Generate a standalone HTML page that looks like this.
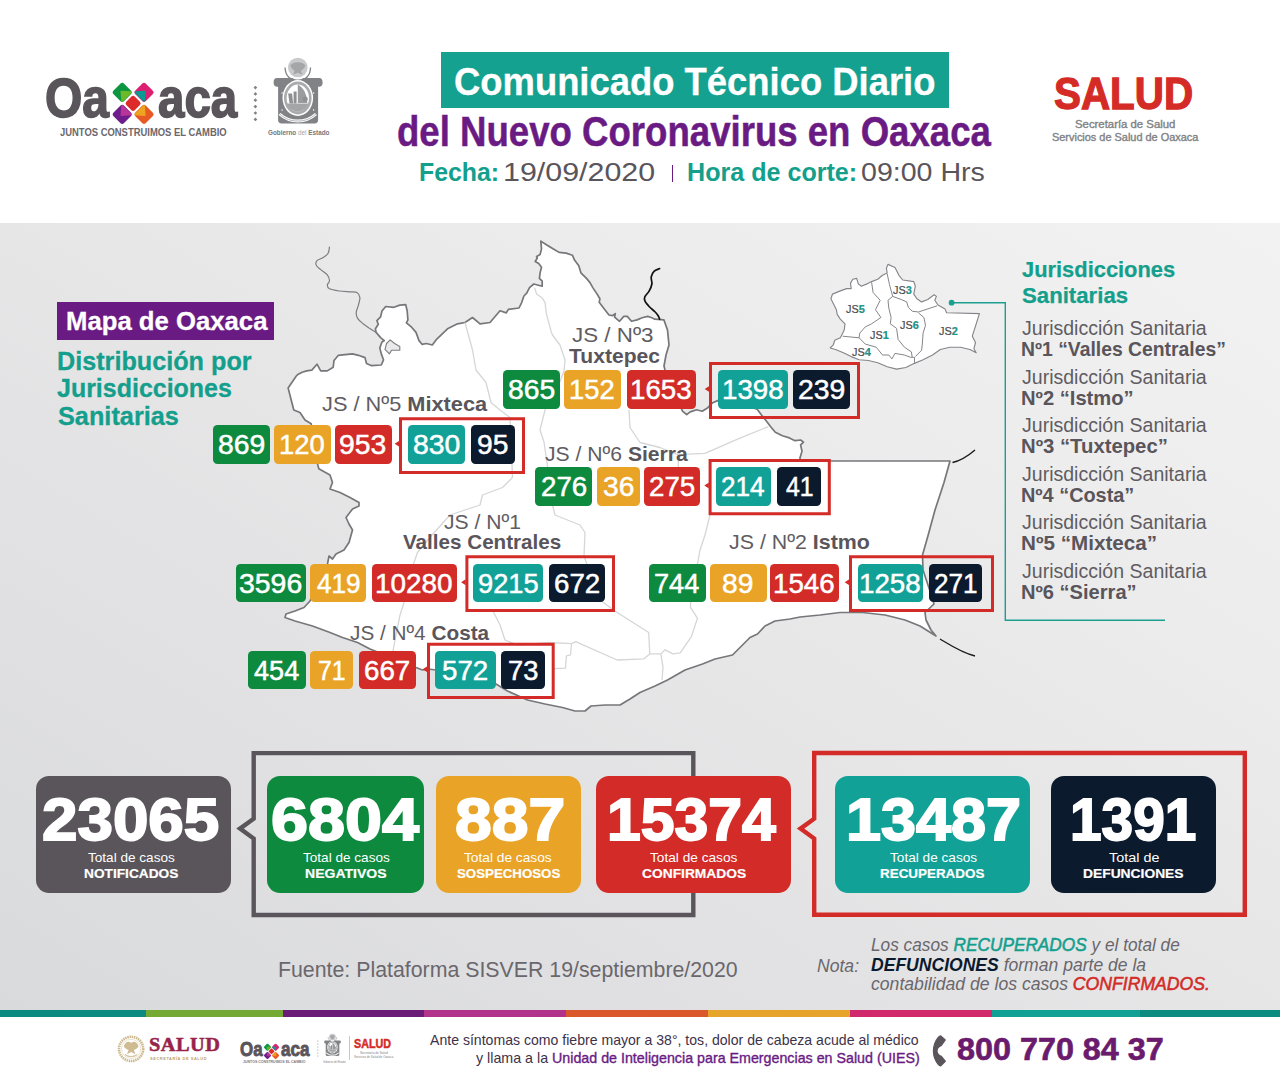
<!DOCTYPE html>
<html lang="es"><head><meta charset="utf-8"><title>Comunicado Técnico Diario - Oaxaca</title>
<style>
html,body{margin:0;padding:0;}
body{width:1280px;height:1082px;position:relative;overflow:hidden;background:#fff;font-family:"Liberation Sans",sans-serif;}
.b{position:absolute;}
.t{position:absolute;white-space:nowrap;line-height:1;transform-origin:0 0;}
svg{position:absolute;left:0;top:0;overflow:visible;}
</style></head><body>
<div class="b" style="left:0;top:222.5px;width:1280px;height:788px;background:linear-gradient(to bottom left,#f2f2f2 0%,#ededee 25%,#e6e6e7 50%,#e0e0e2 75%,#d9dadc 100%);"></div>
<div class="b" style="left:0.0px;top:1010px;width:146.0px;height:7px;background:#0b8b80"></div>
<div class="b" style="left:146.0px;top:1010px;width:136.5px;height:7px;background:#74aa34"></div>
<div class="b" style="left:282.5px;top:1010px;width:141.5px;height:7px;background:#6a1c78"></div>
<div class="b" style="left:424.0px;top:1010px;width:142.0px;height:7px;background:#b2338a"></div>
<div class="b" style="left:566.0px;top:1010px;width:142.0px;height:7px;background:#da582b"></div>
<div class="b" style="left:708.0px;top:1010px;width:142.0px;height:7px;background:#e7a42b"></div>
<div class="b" style="left:850.0px;top:1010px;width:142.0px;height:7px;background:#d02a6c"></div>
<div class="b" style="left:992.0px;top:1010px;width:148.0px;height:7px;background:#10a094"></div>
<div class="b" style="left:1140.0px;top:1010px;width:140.0px;height:7px;background:#0c8b81"></div>
<svg width="1280" height="1082"><rect x="114.75" y="84.85" width="14.90" height="14.90" rx="2.70" transform="rotate(45 122.20 92.30)" fill="#0c9642"/><path d="M121.50 91.60L130.64 92.30L122.20 100.74Z" fill="#6db927" stroke="#6db927" stroke-width="1.90" stroke-linejoin="round"/><rect x="136.55" y="84.85" width="14.90" height="14.90" rx="2.70" transform="rotate(45 144.00 92.30)" fill="#dc1f70"/><path d="M144.70 91.60L135.56 92.30L144.00 100.74Z" fill="#0b9a93" stroke="#0b9a93" stroke-width="1.90" stroke-linejoin="round"/><rect x="114.75" y="106.95" width="14.90" height="14.90" rx="2.70" transform="rotate(45 122.20 114.40)" fill="#6e1d8a"/><path d="M121.50 115.10L130.64 114.40L122.20 105.96Z" fill="#b8359a" stroke="#b8359a" stroke-width="1.90" stroke-linejoin="round"/><rect x="136.55" y="106.95" width="14.90" height="14.90" rx="2.70" transform="rotate(45 144.00 114.40)" fill="#e85a24"/><path d="M144.70 115.10L135.56 114.40L144.00 105.96Z" fill="#eda421" stroke="#eda421" stroke-width="1.90" stroke-linejoin="round"/><rect x="127.15" y="97.40" width="11.90" height="11.90" rx="2.30" transform="rotate(45 133.10 103.35)" fill="#dd2a2a"/></svg>
<svg width="1280" height="1082"><rect x="254.1" y="86.3" width="2.6" height="2.6" fill="#808285" transform="rotate(45 255.4 87.6)"/><rect x="254.1" y="92.6" width="2.6" height="2.6" fill="#808285" transform="rotate(45 255.4 93.9)"/><rect x="254.1" y="98.9" width="2.6" height="2.6" fill="#808285" transform="rotate(45 255.4 100.2)"/><rect x="254.1" y="105.3" width="2.6" height="2.6" fill="#808285" transform="rotate(45 255.4 106.6)"/><rect x="254.1" y="111.7" width="2.6" height="2.6" fill="#808285" transform="rotate(45 255.4 113.0)"/><rect x="254.1" y="118.1" width="2.6" height="2.6" fill="#808285" transform="rotate(45 255.4 119.4)"/></svg>
<svg width="1280" height="1082"><g transform="translate(273.60 57.50) scale(1.0000)"><circle cx="24.2" cy="10" r="9.8" fill="#c9cacc"/><path d="M16.500 8c2.500-4.500 12.900-4.500 15.400 0-1.500 3-3 4.500-4.500 5.200l1.500 4-4.700-2-4.700 2 1.500-4c-1.500-.7-3-2.200-4.500-5.200z" fill="#a4a6a8"/><path d="M11.5 10c0 8 5 13 12.7 13.5 7.700-.5 12.700-5.500 12.700-13.500" fill="none" stroke="#808285" stroke-width="1.3"/><path d="M3 20.500h16c2 2 8.500 2 10.500 0h16c2.600 0 3.500 2 3.500 4.500s-1 4-3 4.200l-1.500 .1v33.200c0 2-1.200 3.500-3.500 3.500h-33c-2.300 0-3.500-1.500-3.500-3.500v-33.200l-1.500-.1c-2-.2-3-1.700-3-4.200s.9-4.500 3.500-4.500z" fill="#808285"/><ellipse cx="24.2" cy="40.5" rx="15.300" ry="17.900" fill="#fff"/><ellipse cx="24.2" cy="40.5" rx="13.800" ry="16.400" fill="#a9abad"/><ellipse cx="24.2" cy="40.5" rx="11.200" ry="13.600" fill="#fff"/><path d="M24.2 27v18.500h9.500c-.5-8-3-15-9.500-18.500z" fill="#9a9c9e"/><path d="M14.500 36h4l1 10h-3.500zM20 34h3v12h-3z" fill="#8e9092"/><circle cx="31.500" cy="41.5" r="2.600" fill="#8e9092"/><path d="M13.500 46h21.400c-1 3.500-4 7-10.700 8.200-6.700-1.200-9.700-4.700-10.700-8.200z" fill="#a3a5a7"/><circle cx="14.2" cy="28.0" r=".7" fill="#fff"/><circle cx="34.2" cy="28.0" r=".7" fill="#fff"/><circle cx="8.5" cy="35.5" r=".7" fill="#fff"/><circle cx="40.0" cy="35.5" r=".7" fill="#fff"/><circle cx="8.5" cy="52.5" r=".7" fill="#fff"/><circle cx="40.0" cy="52.5" r=".7" fill="#fff"/><path d="M6 56.500c6 5.500 12 7 18.200 7s12.200-1.500 18.200-7" fill="none" stroke="#fff" stroke-width="3"/><path d="M6 56.500c6 5.500 12 7 18.200 7s12.200-1.500 18.200-7" fill="none" stroke="#b5b6b8" stroke-width="1"/></g></svg>
<div class="b" style="left:441.0px;top:51.5px;width:507.5px;height:56.5px;background:#14a18f;border-radius:0px;"></div>
<div class="b" style="left:671.9px;top:165.0px;width:1.3px;height:16.5px;background:#6a1b83;border-radius:0px;"></div>
<svg width="1280" height="1082"><path d="M540.8 241.1L546.4 244.7L553.4 248.9L559.1 252.4L566.1 253.1L572.4 255.2L574.5 260.1L578.8 265.8L580.9 272.8L586.5 278.4L590.0 282.6L592.8 287.6L597.0 293.9L599.9 298.8L599.2 302.3L604.1 308.7L609.0 315.0L612.5 315.7L615.3 313.6L614.6 317.1L619.5 321.3L623.8 316.4L627.3 316.4L631.5 321.3L637.1 319.9L642.1 317.8L647.7 316.4L651.9 317.8L654.7 319.2L663.9 319.9L667.5 330.0L669.0 345.0L666.0 355.0L664.0 366.0L665.0 370.0L672.0 388.0L682.5 411.2L686.7 414.7L690.2 411.9L696.6 409.8L702.2 411.2L707.8 407.7L712.7 402.7L717.7 400.6L738.0 402.0L757.0 409.1L761.3 414.7L766.9 421.7L771.1 427.3L775.3 432.3L782.4 435.8L789.4 437.9L795.0 440.7L800.6 440.0L803.5 442.1L800.6 444.9L802.0 451.3L799.9 458.3L801.0 461.0L950.0 461.0L944.0 482.5L935.0 510.0L927.5 537.5L922.5 555.0L923.0 570.0L929.0 588.0L934.0 604.0L925.0 612.5L926.0 620.0L931.0 630.0L936.0 636.0L920.0 626.0L905.0 620.0L885.0 615.0L862.5 612.5L840.0 612.5L820.0 615.0L800.0 617.0L790.0 619.0L775.0 621.0L765.0 626.0L757.5 634.0L750.0 637.5L742.5 645.0L732.5 655.0L715.0 659.0L702.5 664.0L685.0 670.0L667.5 680.0L655.0 686.0L640.0 692.5L630.0 699.0L620.0 705.0L605.0 705.0L591.0 706.0L585.0 711.0L575.0 711.0L562.5 707.5L545.0 704.0L527.5 700.0L507.5 691.0L496.0 684.0L470.0 676.0L445.0 671.0L427.5 669.0L422.5 670.0L416.0 667.5L395.0 659.0L370.0 649.0L357.5 642.5L342.5 637.5L330.0 632.5L312.5 626.0L295.0 621.0L285.0 617.5L286.0 614.0L295.0 611.0L304.0 607.5L310.0 601.0L318.0 585.0L327.5 564.0L329.0 556.0L332.5 559.0L336.0 554.0L344.0 550.0L349.0 542.5L352.5 530.0L349.0 524.0L346.0 517.5L352.5 509.0L359.0 506.0L359.0 502.5L350.0 497.5L340.0 492.5L330.0 489.0L332.5 482.5L330.0 475.0L318.8 468.8L314.0 450.0L311.2 423.8L305.0 420.0L300.0 412.5L293.8 410.0L291.2 400.0L288.1 387.9L296.3 376.0L297.7 374.6L302.2 372.3L306.6 370.9L311.8 370.1L317.0 364.2L320.7 370.9L327.3 370.9L333.2 367.2L334.0 360.5L338.4 355.3L345.1 354.6L352.5 353.9L358.4 355.3L365.0 357.6L366.5 363.5L371.7 365.7L381.3 365.0L383.5 359.8L381.3 353.9L379.8 347.9L382.0 342.0L384.3 340.6L380.6 337.6L376.1 332.4L375.4 328.7L378.3 324.3L376.9 320.6L380.6 316.9L382.0 311.0L385.7 306.5L393.9 307.3L399.8 305.1L405.7 304.6L407.2 311.0L407.9 319.9L406.4 322.8L411.6 327.2L416.0 332.4L419.0 340.6L422.0 344.3L426.4 343.5L432.3 345.0L436.8 339.1L447.5 328.8L457.5 323.8L465.0 322.5L472.5 317.5L480.0 323.8L490.0 322.5L500.0 310.8L506.3 312.9L508.4 309.4L519.0 308.0L521.8 302.3L523.9 296.0L526.7 293.2L529.5 287.6L533.8 284.0L542.2 286.2L542.2 281.2L539.4 278.4L540.1 272.8L541.5 267.2L538.7 263.6L535.2 261.5L537.3 258.0L536.6 256.6L540.1 254.5L541.5 248.9Z" fill="#fff" stroke="#76777a" stroke-width="1.7" stroke-linejoin="round"/><path d="M534.5 287.6L536.6 293.9L542.2 298.1L545.0 302.3L546.4 313.6L551.3 332.0L552.5 335.0L560.0 345.0L565.0 360.0L564.0 371.0L556.0 392.0L545.0 410.0L540.0 430.0L544.0 442.0L548.0 470.0L552.5 505.0L555.0 515.0L580.0 525.0L585.0 532.5L584.0 556.0" fill="none" stroke="#d5d6d7" stroke-width="1.3" stroke-linejoin="round"/><path d="M629.0 410.0L630.0 427.5L640.0 442.5L660.0 447.5L678.3 454.8" fill="none" stroke="#d5d6d7" stroke-width="1.3" stroke-linejoin="round"/><path d="M678.3 470.0L678.3 454.8L688.1 454.1L705.0 453.4L738.8 438.6L768.3 426.6" fill="none" stroke="#d5d6d7" stroke-width="1.3" stroke-linejoin="round"/><path d="M465.0 322.5L472.5 350.0L476.0 370.0L486.0 382.5L491.0 402.5L500.0 410.0L510.0 417.5L511.0 440.0L512.5 477.5L502.5 487.5L482.5 495.0L480.0 505.0L465.0 510.0L450.0 515.0L432.0 535.0L417.5 552.5L414.0 562.5L408.0 590.0L400.0 615.0L395.0 640.0L392.0 657.0" fill="none" stroke="#d5d6d7" stroke-width="1.3" stroke-linejoin="round"/><path d="M492.5 610.0L500.0 625.0L505.0 640.0L517.5 645.0L550.0 642.5L571.5 643.7" fill="none" stroke="#d5d6d7" stroke-width="1.3" stroke-linejoin="round"/><path d="M710.0 515.0L705.0 535.0L700.0 550.0L697.5 564.0L692.0 585.0L690.4 607.1L697.5 618.3L691.4 636.6L680.2 652.8L673.1 653.9L665.0 649.8L660.9 653.9L663.0 667.1L662.0 680.3" fill="none" stroke="#d5d6d7" stroke-width="1.3" stroke-linejoin="round"/><path d="M584.0 556.0L600.0 600.0L615.2 611.2L629.4 620.3L648.7 632.5L649.8 653.9L660.9 653.9" fill="none" stroke="#d5d6d7" stroke-width="1.3" stroke-linejoin="round"/><path d="M649.8 653.9L643.7 658.9L617.2 660.0L575.6 641.7L571.5 643.7L570.5 654.9L566.4 655.9L565.4 668.1L554.2 668.7" fill="none" stroke="#d5d6d7" stroke-width="1.3" stroke-linejoin="round"/><path d="M329.5 246.7C329.3 247.8 329.2 251.5 328.1 253.3C327.0 255.1 324.8 256.5 322.9 257.7C321.0 258.9 318.1 259.5 317.0 260.7C315.9 261.9 315.6 263.6 316.2 265.1C316.8 266.6 318.8 268.0 320.7 269.6C322.6 271.2 325.8 273.0 327.3 274.8C328.8 276.6 329.5 279.0 329.5 280.7C329.5 282.4 327.3 283.8 327.3 285.1C327.3 286.5 327.5 287.8 329.5 288.8C331.5 289.8 335.8 290.5 339.1 291.0C342.4 291.5 346.5 291.6 349.5 291.8C352.5 292.1 355.2 291.5 356.9 292.5C358.6 293.5 359.6 295.6 359.9 297.7C360.1 299.8 359.0 302.6 358.4 305.1C357.8 307.6 356.3 310.3 356.2 312.5C356.1 314.7 356.5 316.6 357.6 318.4C358.7 320.2 360.7 321.8 362.8 323.5C364.9 325.2 368.0 327.2 370.2 328.7C372.4 330.2 375.1 331.8 376.1 332.4" fill="none" stroke="#7c7d80" stroke-width="1.2" stroke-linejoin="round"/><path d="M386.5 343.5L390.2 339.8L394.6 343.5L399.8 346.5L399.8 350.2L391.6 350.2L389.4 353.9L385.0 349.4Z" fill="#e9e9ea" stroke="#7c7d80" stroke-width="1.1" stroke-linejoin="round"/><path d="M659.6 268.6C658.7 269.1 655.4 270.0 654.0 271.4C652.6 272.8 651.6 274.9 651.2 277.0C650.9 279.1 652.2 281.6 651.9 284.0C651.5 286.4 650.3 289.0 649.1 291.1C647.9 293.2 645.6 295.1 644.9 296.7C644.2 298.3 644.2 299.3 644.9 300.9C645.6 302.5 647.5 304.7 649.1 306.5C650.7 308.3 653.2 310.0 654.7 311.5C656.2 313.0 657.4 314.4 658.2 315.7C659.0 317.0 659.4 318.6 659.6 319.2" fill="none" stroke="#111" stroke-width="1.7" stroke-linecap="round"/><path d="M952.500 462.500C962 460.500 968 456 975 450" fill="none" stroke="#1a1a1a" stroke-width="1.4"/><path d="M940 639C950 645 962 653 975 656" fill="none" stroke="#1a1a1a" stroke-width="1.4"/></svg>
<svg width="1280" height="1082"><path d="M888.0 264.4L895.0 267.5L898.9 275.3L902.8 280.0L913.8 281.6L915.3 286.2L913.8 294.1L916.9 298.8L921.6 301.9L927.8 299.5L934.1 294.8L936.4 296.4L934.8 300.3L938.0 305.0L945.0 308.9L946.6 312.8L979.4 313.6L976.2 323.8L972.3 336.2L975.5 342.5L973.9 348.8L976.2 352.7L970.0 349.5L960.6 347.2L949.7 347.2L940.3 349.5L932.5 355.0L923.1 359.7L913.8 363.6L905.9 367.5L896.6 369.1L887.2 366.7L877.8 362.8L868.4 360.5L859.1 359.7L851.2 356.6L843.4 352.7L835.6 349.5L830.2 348.0L833.3 344.8L834.8 340.2L840.3 337.8L841.9 334.7L844.2 330.0L845.0 323.8L840.3 319.1L837.2 314.4L836.4 309.7L833.3 303.4L830.9 298.8L832.5 294.1L840.3 290.9L846.6 288.6L851.2 288.6L850.5 283.1L852.8 279.2L856.7 278.4L858.3 283.9L861.4 286.2L866.9 283.9L871.6 281.6L877.8 279.2L882.5 275.3L887.2 273.0L886.4 268.3Z" fill="#fff" stroke="#85868a" stroke-width="1.15" stroke-linejoin="round"/><path d="M871.6 282.3L873.1 292.5L880.2 300.3L875.5 309.7L880.9 317.5L871.6 323.8L865.3 326.9L859.8 333.1L859.1 337.8L842.7 336.2" fill="none" stroke="#85868a" stroke-width="1.0" stroke-linejoin="round"/><path d="M859.1 337.8L865.3 344.1L876.2 347.2L882.5 355.0L888.8 355.0L891.9 358.9L895.0 353.4L904.4 355.0L910.6 357.3L914.5 357.3L914.5 362.8" fill="none" stroke="#85868a" stroke-width="1.0" stroke-linejoin="round"/><path d="M887.2 273.8L889.5 284.7L892.7 296.4L888.0 300.3L888.8 308.1L891.1 317.5L890.3 323.8L896.6 328.4L898.1 339.4L904.4 347.2L911.4 351.9L912.2 357.3" fill="none" stroke="#85868a" stroke-width="1.0" stroke-linejoin="round"/><path d="M892.7 296.4L901.2 299.5L906.7 301.9L908.3 307.3L912.2 311.2L918.4 312.0L937.2 305.8" fill="none" stroke="#85868a" stroke-width="1.0" stroke-linejoin="round"/><path d="M918.4 312.8L923.9 317.5L925.5 325.3L923.1 333.1L922.3 344.1L921.6 350.3L915.3 356.6" fill="none" stroke="#85868a" stroke-width="1.0" stroke-linejoin="round"/></svg>
<div class="b" style="left:56.7px;top:302.2px;width:217.3px;height:38.2px;background:#6a1b83;border-radius:0px;"></div>
<svg width="1280" height="1082"><path d="M710.50 363.40H858.50V417.50H710.50Z" fill="none" stroke="#d32b27" stroke-width="3.0" stroke-linejoin="miter"/><path d="M709.30 386.00L704.70 389.00L709.30 392.00Z" fill="#d32b27"/></svg>
<div class="b" style="left:503.4px;top:370.4px;width:56.4px;height:38.8px;background:#0e8a3f;border-radius:4.5px;"></div>
<div class="b" style="left:564.2px;top:370.4px;width:56.4px;height:38.8px;background:#e9a327;border-radius:4.5px;"></div>
<div class="b" style="left:626.6px;top:370.4px;width:69.2px;height:38.8px;background:#d32b27;border-radius:4.5px;"></div>
<div class="b" style="left:717.9px;top:370.4px;width:69.8px;height:38.8px;background:#12a197;border-radius:4.5px;"></div>
<div class="b" style="left:793.0px;top:370.4px;width:56.8px;height:38.8px;background:#0c1a2e;border-radius:4.5px;"></div>
<svg width="1280" height="1082"><path d="M400.50 418.80H523.50V472.50H400.50Z" fill="none" stroke="#d32b27" stroke-width="3.0" stroke-linejoin="miter"/><path d="M399.30 440.80L394.70 443.80L399.30 446.80Z" fill="#d32b27"/></svg>
<div class="b" style="left:212.5px;top:425.2px;width:57.3px;height:38.8px;background:#0e8a3f;border-radius:4.5px;"></div>
<div class="b" style="left:274.2px;top:425.2px;width:56.4px;height:38.8px;background:#e9a327;border-radius:4.5px;"></div>
<div class="b" style="left:334.5px;top:425.2px;width:57.0px;height:38.8px;background:#d32b27;border-radius:4.5px;"></div>
<div class="b" style="left:407.5px;top:425.2px;width:57.5px;height:38.8px;background:#12a197;border-radius:4.5px;"></div>
<div class="b" style="left:471.0px;top:425.2px;width:44.2px;height:38.8px;background:#0c1a2e;border-radius:4.5px;"></div>
<svg width="1280" height="1082"><path d="M710.10 460.50H829.30V513.80H710.10Z" fill="none" stroke="#d32b27" stroke-width="3.0" stroke-linejoin="miter"/><path d="M708.90 482.60L704.30 485.60L708.90 488.60Z" fill="#d32b27"/></svg>
<div class="b" style="left:535.4px;top:467.0px;width:56.7px;height:38.8px;background:#0e8a3f;border-radius:4.5px;"></div>
<div class="b" style="left:596.6px;top:467.0px;width:43.6px;height:38.8px;background:#e9a327;border-radius:4.5px;"></div>
<div class="b" style="left:644.1px;top:467.0px;width:56.4px;height:38.8px;background:#d32b27;border-radius:4.5px;"></div>
<div class="b" style="left:715.9px;top:467.0px;width:54.9px;height:38.8px;background:#12a197;border-radius:4.5px;"></div>
<div class="b" style="left:777.0px;top:467.0px;width:44.1px;height:38.8px;background:#0c1a2e;border-radius:4.5px;"></div>
<svg width="1280" height="1082"><path d="M466.90 556.80H613.50V610.50H466.90Z" fill="none" stroke="#d32b27" stroke-width="3.0" stroke-linejoin="miter"/><path d="M465.70 579.30L461.10 582.30L465.70 585.30Z" fill="#d32b27"/></svg>
<div class="b" style="left:235.9px;top:563.7px;width:69.7px;height:38.8px;background:#0e8a3f;border-radius:4.5px;"></div>
<div class="b" style="left:310.0px;top:563.7px;width:56.3px;height:38.8px;background:#e9a327;border-radius:4.5px;"></div>
<div class="b" style="left:371.9px;top:563.7px;width:85.0px;height:38.8px;background:#d32b27;border-radius:4.5px;"></div>
<div class="b" style="left:472.9px;top:563.7px;width:70.0px;height:38.8px;background:#12a197;border-radius:4.5px;"></div>
<div class="b" style="left:548.6px;top:563.7px;width:56.7px;height:38.8px;background:#0c1a2e;border-radius:4.5px;"></div>
<svg width="1280" height="1082"><path d="M850.50 556.80H992.50V610.50H850.50Z" fill="none" stroke="#d32b27" stroke-width="3.0" stroke-linejoin="miter"/><path d="M849.30 579.30L844.70 582.30L849.30 585.30Z" fill="#d32b27"/></svg>
<div class="b" style="left:648.8px;top:563.7px;width:56.8px;height:38.8px;background:#0e8a3f;border-radius:4.5px;"></div>
<div class="b" style="left:709.7px;top:563.7px;width:56.9px;height:38.8px;background:#e9a327;border-radius:4.5px;"></div>
<div class="b" style="left:769.7px;top:563.7px;width:69.3px;height:38.8px;background:#d32b27;border-radius:4.5px;"></div>
<div class="b" style="left:857.8px;top:563.7px;width:65.1px;height:38.8px;background:#12a197;border-radius:4.5px;"></div>
<div class="b" style="left:928.6px;top:563.7px;width:53.6px;height:38.8px;background:#0c1a2e;border-radius:4.5px;"></div>
<svg width="1280" height="1082"><path d="M428.50 644.20H553.20V697.50H428.50Z" fill="none" stroke="#d32b27" stroke-width="3.0" stroke-linejoin="miter"/><path d="M427.30 666.30L422.70 669.30L427.30 672.30Z" fill="#d32b27"/></svg>
<div class="b" style="left:248.1px;top:650.7px;width:57.5px;height:38.8px;background:#0e8a3f;border-radius:4.5px;"></div>
<div class="b" style="left:310.3px;top:650.7px;width:43.1px;height:38.8px;background:#e9a327;border-radius:4.5px;"></div>
<div class="b" style="left:359.0px;top:650.7px;width:57.0px;height:38.8px;background:#d32b27;border-radius:4.5px;"></div>
<div class="b" style="left:435.2px;top:650.7px;width:60.7px;height:38.8px;background:#12a197;border-radius:4.5px;"></div>
<div class="b" style="left:501.2px;top:650.7px;width:44.2px;height:38.8px;background:#0c1a2e;border-radius:4.5px;"></div>
<svg width="1280" height="1082"><path d="M951.600 302.700H1005.300V620.300H1165" fill="none" stroke="#1a9f90" stroke-width="1.4"/><circle cx="951.600" cy="302.700" r="2.900" fill="#1a9f90"/></svg>
<svg width="1280" height="1082"><path d="M253.700 753.100H693.300V915H253.700V838.500L240 828.600L253.700 818.700Z" fill="none" stroke="#5a555b" stroke-width="4.4" stroke-linejoin="miter"/><path d="M814.200 753H1244.800V914.800H814.200V838.500L800.500 828.600L814.200 818.700Z" fill="none" stroke="#d32b27" stroke-width="4.4" stroke-linejoin="miter"/></svg>
<div class="b" style="left:35.7px;top:776.2px;width:195.3px;height:117.0px;background:#5a555b;border-radius:13px;"></div>
<div class="b" style="left:267.0px;top:776.2px;width:157.2px;height:117.0px;background:#0e8a3f;border-radius:13px;"></div>
<div class="b" style="left:436.4px;top:776.2px;width:145.0px;height:117.0px;background:#e9a327;border-radius:13px;"></div>
<div class="b" style="left:596.2px;top:776.2px;width:194.5px;height:117.0px;background:#d32b27;border-radius:13px;"></div>
<div class="b" style="left:834.7px;top:776.2px;width:195.3px;height:117.0px;background:#12a197;border-radius:13px;"></div>
<div class="b" style="left:1050.7px;top:776.2px;width:165.7px;height:117.0px;background:#0c1a2e;border-radius:13px;"></div>
<svg width="1280" height="1082"><circle cx="131.100" cy="1048.900" r="12.100" fill="none" stroke="#cdb98f" stroke-width="2.600" stroke-dasharray="1.500 .7"/><circle cx="131.100" cy="1048.900" r="9.600" fill="none" stroke="#e6dcc4" stroke-width=".8"/><path d="M123.800 1046.200c1.800-4.500 5-5.600 7.400-3.200 2.400-2.400 5.600-1.300 7.400 3.200-1.200 2.300-3 3.400-4.800 3.800l1.600 4.200-4.200-2.200-4.200 2.200 1.600-4.200c-1.800-.4-3.600-1.500-4.800-3.800z" fill="#cfbb91"/><path d="M125 1054.500c3.500 2.800 8.700 2.800 12.200 0" fill="none" stroke="#d6c5a0" stroke-width="1.300"/></svg>
<svg width="1280" height="1082"><rect x="264.69" y="1044.45" width="5.54" height="5.54" rx="1.00" transform="rotate(45 267.46 1047.23)" fill="#0c9642"/><path d="M267.20 1046.97L270.60 1047.23L267.46 1050.36Z" fill="#6db927" stroke="#6db927" stroke-width="0.71" stroke-linejoin="round"/><rect x="272.80" y="1044.45" width="5.54" height="5.54" rx="1.00" transform="rotate(45 275.57 1047.23)" fill="#dc1f70"/><path d="M275.83 1046.97L272.43 1047.23L275.57 1050.36Z" fill="#0b9a93" stroke="#0b9a93" stroke-width="0.71" stroke-linejoin="round"/><rect x="264.69" y="1052.68" width="5.54" height="5.54" rx="1.00" transform="rotate(45 267.46 1055.45)" fill="#6e1d8a"/><path d="M267.20 1055.71L270.60 1055.45L267.46 1052.31Z" fill="#b8359a" stroke="#b8359a" stroke-width="0.71" stroke-linejoin="round"/><rect x="272.80" y="1052.68" width="5.54" height="5.54" rx="1.00" transform="rotate(45 275.57 1055.45)" fill="#e85a24"/><path d="M275.83 1055.71L272.43 1055.45L275.57 1052.31Z" fill="#eda421" stroke="#eda421" stroke-width="0.71" stroke-linejoin="round"/><rect x="269.30" y="1049.12" width="4.43" height="4.43" rx="0.86" transform="rotate(45 271.52 1051.34)" fill="#dd2a2a"/></svg>
<svg width="1280" height="1082"><circle cx="317.800" cy="1041.0" r=".5" fill="#808285"/><circle cx="317.800" cy="1044.0" r=".5" fill="#808285"/><circle cx="317.800" cy="1047.0" r=".5" fill="#808285"/><circle cx="317.800" cy="1050.0" r=".5" fill="#808285"/><circle cx="317.800" cy="1053.0" r=".5" fill="#808285"/><circle cx="317.800" cy="1056.0" r=".5" fill="#808285"/></svg>
<svg width="1280" height="1082"><g transform="translate(324.20 1033.60) scale(0.3400)"><circle cx="24.2" cy="10" r="9.8" fill="#c9cacc"/><path d="M16.500 8c2.500-4.500 12.900-4.500 15.400 0-1.500 3-3 4.500-4.500 5.200l1.500 4-4.700-2-4.700 2 1.500-4c-1.500-.7-3-2.200-4.500-5.200z" fill="#a4a6a8"/><path d="M11.5 10c0 8 5 13 12.7 13.5 7.700-.5 12.700-5.500 12.700-13.500" fill="none" stroke="#808285" stroke-width="1.3"/><path d="M3 20.500h16c2 2 8.500 2 10.500 0h16c2.600 0 3.500 2 3.500 4.500s-1 4-3 4.200l-1.500 .1v33.200c0 2-1.200 3.500-3.500 3.500h-33c-2.300 0-3.500-1.500-3.500-3.500v-33.200l-1.500-.1c-2-.2-3-1.700-3-4.200s.9-4.500 3.500-4.500z" fill="#808285"/><ellipse cx="24.2" cy="40.5" rx="15.300" ry="17.900" fill="#fff"/><ellipse cx="24.2" cy="40.5" rx="13.800" ry="16.400" fill="#a9abad"/><ellipse cx="24.2" cy="40.5" rx="11.200" ry="13.600" fill="#fff"/><path d="M24.2 27v18.500h9.500c-.5-8-3-15-9.500-18.500z" fill="#9a9c9e"/><path d="M14.500 36h4l1 10h-3.500zM20 34h3v12h-3z" fill="#8e9092"/><circle cx="31.500" cy="41.5" r="2.600" fill="#8e9092"/><path d="M13.500 46h21.400c-1 3.500-4 7-10.700 8.200-6.700-1.200-9.700-4.700-10.700-8.200z" fill="#a3a5a7"/><circle cx="14.2" cy="28.0" r=".7" fill="#fff"/><circle cx="34.2" cy="28.0" r=".7" fill="#fff"/><circle cx="8.5" cy="35.5" r=".7" fill="#fff"/><circle cx="40.0" cy="35.5" r=".7" fill="#fff"/><circle cx="8.5" cy="52.5" r=".7" fill="#fff"/><circle cx="40.0" cy="52.5" r=".7" fill="#fff"/><path d="M6 56.500c6 5.500 12 7 18.200 7s12.200-1.500 18.200-7" fill="none" stroke="#fff" stroke-width="3"/><path d="M6 56.500c6 5.500 12 7 18.200 7s12.200-1.500 18.200-7" fill="none" stroke="#b5b6b8" stroke-width="1"/></g></svg>
<div class="b" style="left:348.600px;top:1036px;width:.8px;height:24px;background:#c6c7c9"></div>
<svg width="1280" height="1082"><path d="M940.700 1035.900L945.200 1039.900L941.300 1045.400C935.500 1047.800 935.500 1054 941.300 1056.400L945.200 1061.200L940.700 1065.800Q939.400 1065.700 938.300 1064.300C931.900 1056.500 931.900 1045.200 938.300 1037.400Q939.400 1036 940.700 1035.900Z" fill="#5a555b" stroke="#5a555b" stroke-width="1.4" stroke-linejoin="round"/></svg>
<div class="t" style="left:45.45px;top:70.94px;font-size:55.00px;color:#5a555b;font-weight:700;-webkit-text-stroke:1.60px #5a555b;transform:scaleX(0.8721);">Oa</div>
<div class="t" style="left:157.83px;top:70.94px;font-size:55.00px;color:#5a555b;font-weight:700;-webkit-text-stroke:1.60px #5a555b;transform:scaleX(0.8623);">aca</div>
<div class="t" style="left:59.50px;top:127.23px;font-size:10.60px;color:#6b676d;font-weight:700;transform:scaleX(0.8897);">JUNTOS CONSTRUIMOS EL CAMBIO</div>
<div class="t" style="left:267.70px;top:128.94px;font-size:7.40px;color:#77787b;transform:scaleX(0.8601);"><b>Gobierno</b> <span style="color:#a5a6a8">del</span> <b>Estado</b></div>
<div class="t" style="left:454.21px;top:62.29px;font-size:39.00px;color:#fff;font-weight:700;-webkit-text-stroke:0.30px #fff;transform:scaleX(0.9334);">Comunicado Técnico Diario</div>
<div class="t" style="left:396.85px;top:111.45px;font-size:42.00px;color:#6a1b83;font-weight:700;-webkit-text-stroke:0.50px #6a1b83;transform:scaleX(0.8713);">del Nuevo Coronavirus en Oaxaca</div>
<div class="t" style="left:419.06px;top:159.07px;font-size:26.50px;color:#149f8d;font-weight:700;transform:scaleX(0.9383);">Fecha:</div>
<div class="t" style="left:502.71px;top:159.07px;font-size:26.50px;color:#5a555b;transform:scaleX(1.1470);">19/09/2020</div>
<div class="t" style="left:686.55px;top:159.07px;font-size:26.50px;color:#149f8d;font-weight:700;transform:scaleX(0.9472);">Hora de corte:</div>
<div class="t" style="left:861.42px;top:159.07px;font-size:26.50px;color:#5a555b;transform:scaleX(1.0780);">09:00 Hrs</div>
<div class="t" style="left:1054.19px;top:71.11px;font-size:45.00px;color:#d52b27;font-weight:700;-webkit-text-stroke:1.30px #d52b27;transform:scaleX(0.8973);">SALUD</div>
<div class="t" style="left:1075.19px;top:120.00px;font-size:10.40px;color:#808285;-webkit-text-stroke:0.35px #808285;transform:scaleX(1.0929);">Secretaría de Salud</div>
<div class="t" style="left:1052.48px;top:132.80px;font-size:10.40px;color:#808285;-webkit-text-stroke:0.35px #808285;transform:scaleX(1.0517);">Servicios de Salud de Oaxaca</div>
<div class="t" style="left:845.90px;top:304.06px;font-size:10.80px;color:#4d4a50;-webkit-text-stroke:0.20px #4d4a50;transform:scaleX(1.0095);">JS<b style="color:#149f8d">5</b></div>
<div class="t" style="left:893.10px;top:284.86px;font-size:10.80px;color:#4d4a50;-webkit-text-stroke:0.20px #4d4a50;transform:scaleX(1.0095);">JS<b style="color:#149f8d">3</b></div>
<div class="t" style="left:900.10px;top:320.06px;font-size:10.80px;color:#4d4a50;-webkit-text-stroke:0.20px #4d4a50;transform:scaleX(1.0095);">JS<b style="color:#149f8d">6</b></div>
<div class="t" style="left:870.10px;top:330.26px;font-size:10.80px;color:#4d4a50;-webkit-text-stroke:0.20px #4d4a50;transform:scaleX(1.0095);">JS<b style="color:#149f8d">1</b></div>
<div class="t" style="left:939.10px;top:326.06px;font-size:10.80px;color:#4d4a50;-webkit-text-stroke:0.20px #4d4a50;transform:scaleX(1.0095);">JS<b style="color:#149f8d">2</b></div>
<div class="t" style="left:852.10px;top:346.86px;font-size:10.80px;color:#4d4a50;-webkit-text-stroke:0.20px #4d4a50;transform:scaleX(1.0095);">JS<b style="color:#149f8d">4</b></div>
<div class="t" style="left:65.58px;top:307.57px;font-size:26.50px;color:#fff;font-weight:700;-webkit-text-stroke:0.30px #fff;transform:scaleX(0.9698);">Mapa de Oaxaca</div>
<div class="t" style="left:57.06px;top:348.61px;font-size:25.50px;color:#149f8d;font-weight:700;-webkit-text-stroke:0.30px #149f8d;transform:scaleX(0.9883);">Distribución por</div>
<div class="t" style="left:57.45px;top:376.11px;font-size:25.50px;color:#149f8d;font-weight:700;-webkit-text-stroke:0.30px #149f8d;transform:scaleX(0.9793);">Jurisdicciones</div>
<div class="t" style="left:58.05px;top:403.51px;font-size:25.50px;color:#149f8d;font-weight:700;-webkit-text-stroke:0.30px #149f8d;transform:scaleX(0.9916);">Sanitarias</div>
<div class="t" style="left:507.96px;top:377.34px;font-size:27.00px;color:#fff;-webkit-text-stroke:0.50px #fff;transform:scaleX(1.0495);">865</div>
<div class="t" style="left:569.08px;top:377.34px;font-size:27.00px;color:#fff;-webkit-text-stroke:0.50px #fff;transform:scaleX(1.0130);">152</div>
<div class="t" style="left:629.91px;top:377.34px;font-size:27.00px;color:#fff;-webkit-text-stroke:0.50px #fff;transform:scaleX(1.0250);">1653</div>
<div class="t" style="left:721.51px;top:377.34px;font-size:27.00px;color:#fff;-webkit-text-stroke:0.50px #fff;transform:scaleX(1.0250);">1398</div>
<div class="t" style="left:797.76px;top:377.34px;font-size:27.00px;color:#fff;-webkit-text-stroke:0.50px #fff;transform:scaleX(1.0495);">239</div>
<div class="t" style="left:217.51px;top:432.14px;font-size:27.00px;color:#fff;-webkit-text-stroke:0.50px #fff;transform:scaleX(1.0495);">869</div>
<div class="t" style="left:279.08px;top:432.14px;font-size:27.00px;color:#fff;-webkit-text-stroke:0.50px #fff;transform:scaleX(1.0130);">120</div>
<div class="t" style="left:339.36px;top:432.14px;font-size:27.00px;color:#fff;-webkit-text-stroke:0.50px #fff;transform:scaleX(1.0495);">953</div>
<div class="t" style="left:412.61px;top:432.14px;font-size:27.00px;color:#fff;-webkit-text-stroke:0.50px #fff;transform:scaleX(1.0495);">830</div>
<div class="t" style="left:477.42px;top:432.14px;font-size:27.00px;color:#fff;-webkit-text-stroke:0.50px #fff;transform:scaleX(1.0445);">95</div>
<div class="t" style="left:540.63px;top:473.94px;font-size:27.00px;color:#fff;-webkit-text-stroke:0.50px #fff;transform:scaleX(1.0265);">276</div>
<div class="t" style="left:602.72px;top:473.94px;font-size:27.00px;color:#fff;-webkit-text-stroke:0.50px #fff;transform:scaleX(1.0445);">36</div>
<div class="t" style="left:649.18px;top:473.94px;font-size:27.00px;color:#fff;-webkit-text-stroke:0.50px #fff;transform:scaleX(1.0265);">275</div>
<div class="t" style="left:721.07px;top:473.94px;font-size:27.00px;color:#fff;-webkit-text-stroke:0.50px #fff;transform:scaleX(0.9675);">214</div>
<div class="t" style="left:785.68px;top:473.94px;font-size:27.00px;color:#fff;-webkit-text-stroke:0.50px #fff;transform:scaleX(0.9211);">41</div>
<div class="t" style="left:239.16px;top:570.64px;font-size:27.00px;color:#fff;-webkit-text-stroke:0.50px #fff;transform:scaleX(1.0519);">3596</div>
<div class="t" style="left:316.84px;top:570.64px;font-size:27.00px;color:#fff;-webkit-text-stroke:0.50px #fff;transform:scaleX(0.9675);">419</div>
<div class="t" style="left:375.14px;top:570.64px;font-size:27.00px;color:#fff;-webkit-text-stroke:0.50px #fff;transform:scaleX(1.0320);">10280</div>
<div class="t" style="left:477.64px;top:570.64px;font-size:27.00px;color:#fff;-webkit-text-stroke:0.50px #fff;transform:scaleX(1.0075);">9215</div>
<div class="t" style="left:553.83px;top:570.64px;font-size:27.00px;color:#fff;-webkit-text-stroke:0.50px #fff;transform:scaleX(1.0265);">672</div>
<div class="t" style="left:654.10px;top:570.64px;font-size:27.00px;color:#fff;-webkit-text-stroke:0.50px #fff;transform:scaleX(1.0034);">744</div>
<div class="t" style="left:722.47px;top:570.64px;font-size:27.00px;color:#fff;-webkit-text-stroke:0.50px #fff;transform:scaleX(1.0445);">89</div>
<div class="t" style="left:773.06px;top:570.64px;font-size:27.00px;color:#fff;-webkit-text-stroke:0.50px #fff;transform:scaleX(1.0250);">1546</div>
<div class="t" style="left:859.06px;top:570.64px;font-size:27.00px;color:#fff;-webkit-text-stroke:0.50px #fff;transform:scaleX(1.0250);">1258</div>
<div class="t" style="left:933.62px;top:570.64px;font-size:27.00px;color:#fff;-webkit-text-stroke:0.50px #fff;transform:scaleX(0.9668);">271</div>
<div class="t" style="left:254.25px;top:657.64px;font-size:27.00px;color:#fff;-webkit-text-stroke:0.50px #fff;transform:scaleX(1.0034);">454</div>
<div class="t" style="left:318.06px;top:657.64px;font-size:27.00px;color:#fff;-webkit-text-stroke:0.50px #fff;transform:scaleX(0.9183);">71</div>
<div class="t" style="left:364.38px;top:657.64px;font-size:27.00px;color:#fff;-webkit-text-stroke:0.50px #fff;transform:scaleX(1.0265);">667</div>
<div class="t" style="left:442.43px;top:657.64px;font-size:27.00px;color:#fff;-webkit-text-stroke:0.50px #fff;transform:scaleX(1.0265);">572</div>
<div class="t" style="left:508.14px;top:657.64px;font-size:27.00px;color:#fff;-webkit-text-stroke:0.50px #fff;transform:scaleX(1.0094);">73</div>
<div class="t" style="left:571.60px;top:325.26px;font-size:20.60px;color:#605c62;transform:scaleX(1.0859);">JS / Nº3</div>
<div class="t" style="left:568.70px;top:345.96px;font-size:20.60px;color:#59555b;font-weight:700;transform:scaleX(1.0233);">Tuxtepec</div>
<div class="t" style="left:321.70px;top:393.76px;font-size:20.60px;color:#605c62;transform:scaleX(1.0562);">JS / Nº5 <b style="color:#59555b">Mixteca</b></div>
<div class="t" style="left:545.20px;top:443.76px;font-size:20.60px;color:#605c62;transform:scaleX(1.0262);">JS / Nº6 <b style="color:#59555b">Sierra</b></div>
<div class="t" style="left:443.80px;top:512.26px;font-size:20.60px;color:#605c62;transform:scaleX(1.0256);">JS / Nº1</div>
<div class="t" style="left:403.10px;top:531.96px;font-size:20.60px;color:#59555b;font-weight:700;transform:scaleX(1.0017);">Valles Centrales</div>
<div class="t" style="left:728.60px;top:531.96px;font-size:20.60px;color:#605c62;transform:scaleX(1.0380);">JS / Nº2 <b style="color:#59555b">Istmo</b></div>
<div class="t" style="left:349.70px;top:623.16px;font-size:20.60px;color:#605c62;transform:scaleX(1.0083);">JS / Nº4 <b style="color:#59555b">Costa</b></div>
<div class="t" style="left:1022.02px;top:259.18px;font-size:22.00px;color:#149f8d;font-weight:700;-webkit-text-stroke:0.25px #149f8d;transform:scaleX(0.9942);">Jurisdicciones</div>
<div class="t" style="left:1022.43px;top:285.18px;font-size:22.00px;color:#149f8d;font-weight:700;-webkit-text-stroke:0.25px #149f8d;transform:scaleX(1.0087);">Sanitarias</div>
<div class="t" style="left:1022.30px;top:319.46px;font-size:19.30px;color:#605c62;transform:scaleX(1.0133);">Jurisdicción Sanitaria</div>
<div class="t" style="left:1021.30px;top:340.36px;font-size:19.30px;color:#59555b;font-weight:700;transform:scaleX(1.0029);">Nº1 “Valles Centrales”</div>
<div class="t" style="left:1022.30px;top:367.96px;font-size:19.30px;color:#605c62;transform:scaleX(1.0133);">Jurisdicción Sanitaria</div>
<div class="t" style="left:1021.26px;top:388.86px;font-size:19.30px;color:#59555b;font-weight:700;transform:scaleX(1.0450);">Nº2 “Istmo”</div>
<div class="t" style="left:1022.30px;top:416.46px;font-size:19.30px;color:#605c62;transform:scaleX(1.0133);">Jurisdicción Sanitaria</div>
<div class="t" style="left:1021.25px;top:437.36px;font-size:19.30px;color:#59555b;font-weight:700;transform:scaleX(1.0522);">Nº3 “Tuxtepec”</div>
<div class="t" style="left:1022.30px;top:464.96px;font-size:19.30px;color:#605c62;transform:scaleX(1.0133);">Jurisdicción Sanitaria</div>
<div class="t" style="left:1021.27px;top:485.86px;font-size:19.30px;color:#59555b;font-weight:700;transform:scaleX(1.0308);">Nº4 “Costa”</div>
<div class="t" style="left:1022.30px;top:513.46px;font-size:19.30px;color:#605c62;transform:scaleX(1.0133);">Jurisdicción Sanitaria</div>
<div class="t" style="left:1021.23px;top:534.36px;font-size:19.30px;color:#59555b;font-weight:700;transform:scaleX(1.0708);">Nº5 “Mixteca”</div>
<div class="t" style="left:1022.30px;top:561.96px;font-size:19.30px;color:#605c62;transform:scaleX(1.0133);">Jurisdicción Sanitaria</div>
<div class="t" style="left:1021.26px;top:582.86px;font-size:19.30px;color:#59555b;font-weight:700;transform:scaleX(1.0415);">Nº6 “Sierra”</div>
<div class="t" style="left:41.86px;top:791.28px;font-size:58.50px;color:#fff;font-weight:700;-webkit-text-stroke:1.90px #fff;transform:scaleX(1.0897);">23065</div>
<div class="t" style="left:87.90px;top:850.69px;font-size:13.60px;color:#fff;transform:scaleX(0.9987);">Total de casos</div>
<div class="t" style="left:84.10px;top:867.39px;font-size:13.60px;color:#fff;font-weight:700;-webkit-text-stroke:0.20px #fff;transform:scaleX(1.0076);">NOTIFICADOS</div>
<div class="t" style="left:270.81px;top:791.28px;font-size:58.50px;color:#fff;font-weight:700;-webkit-text-stroke:1.90px #fff;transform:scaleX(1.1363);">6804</div>
<div class="t" style="left:302.80px;top:850.69px;font-size:13.60px;color:#fff;transform:scaleX(0.9987);">Total de casos</div>
<div class="t" style="left:304.90px;top:867.39px;font-size:13.60px;color:#fff;font-weight:700;-webkit-text-stroke:0.20px #fff;transform:scaleX(1.0316);">NEGATIVOS</div>
<div class="t" style="left:455.04px;top:791.28px;font-size:58.50px;color:#fff;font-weight:700;-webkit-text-stroke:1.90px #fff;transform:scaleX(1.1284);">887</div>
<div class="t" style="left:464.30px;top:850.69px;font-size:13.60px;color:#fff;transform:scaleX(1.0091);">Total de casos</div>
<div class="t" style="left:456.80px;top:867.39px;font-size:13.60px;color:#fff;font-weight:700;-webkit-text-stroke:0.20px #fff;transform:scaleX(0.9764);">SOSPECHOSOS</div>
<div class="t" style="left:607.47px;top:791.28px;font-size:58.50px;color:#fff;font-weight:700;-webkit-text-stroke:1.90px #fff;transform:scaleX(1.0367);">15374</div>
<div class="t" style="left:649.70px;top:850.69px;font-size:13.60px;color:#fff;transform:scaleX(1.0056);">Total de casos</div>
<div class="t" style="left:641.60px;top:867.39px;font-size:13.60px;color:#fff;font-weight:700;-webkit-text-stroke:0.20px #fff;transform:scaleX(1.0141);">CONFIRMADOS</div>
<div class="t" style="left:845.89px;top:791.28px;font-size:58.50px;color:#fff;font-weight:700;-webkit-text-stroke:1.90px #fff;transform:scaleX(1.0764);">13487</div>
<div class="t" style="left:889.90px;top:850.69px;font-size:13.60px;color:#fff;transform:scaleX(1.0022);">Total de casos</div>
<div class="t" style="left:880.40px;top:867.39px;font-size:13.60px;color:#fff;font-weight:700;-webkit-text-stroke:0.20px #fff;transform:scaleX(0.9869);">RECUPERADOS</div>
<div class="t" style="left:1069.71px;top:791.28px;font-size:58.50px;color:#fff;font-weight:700;-webkit-text-stroke:1.90px #fff;transform:scaleX(0.9702);">1391</div>
<div class="t" style="left:1109.20px;top:850.69px;font-size:13.60px;color:#fff;transform:scaleX(1.0581);">Total de</div>
<div class="t" style="left:1083.30px;top:867.39px;font-size:13.60px;color:#fff;font-weight:700;-webkit-text-stroke:0.20px #fff;transform:scaleX(1.0163);">DEFUNCIONES</div>
<div class="t" style="left:277.83px;top:959.08px;font-size:22.00px;color:#6a676c;transform:scaleX(0.9688);">Fuente: Plataforma SISVER 19/septiembre/2020</div>
<div class="t" style="left:816.50px;top:956.99px;font-size:18.20px;color:#6a676c;font-style:italic;transform:scaleX(0.9670);">Nota:</div>
<div class="t" style="left:870.50px;top:936.39px;font-size:18.20px;color:#6a676c;font-style:italic;transform:scaleX(0.9487);">Los casos <span style="color:#149f8d;-webkit-text-stroke:.55px #149f8d">RECUPERADOS</span> y el total de</div>
<div class="t" style="left:870.50px;top:955.99px;font-size:18.20px;color:#6a676c;font-style:italic;transform:scaleX(0.9651);"><b style="color:#0c1a2e">DEFUNCIONES</b> forman parte de la</div>
<div class="t" style="left:870.50px;top:974.89px;font-size:18.20px;color:#6a676c;font-style:italic;transform:scaleX(0.9692);">contabilidad de los casos <span style="color:#d32b27;-webkit-text-stroke:.55px #d32b27">CONFIRMADOS.</span></div>
<div class="t" style="left:149.02px;top:1035.11px;font-size:19.60px;color:#98234a;font-weight:700;font-family:'Liberation Serif',serif;-webkit-text-stroke:0.50px #98234a;transform:scaleX(1.0370);letter-spacing:.5px;">SALUD</div>
<div class="t" style="left:150.30px;top:1057.03px;font-size:4.10px;color:#b9a06e;font-weight:700;transform:scaleX(0.9586);letter-spacing:.6px;">SECRETARÍA DE SALUD</div>
<div class="t" style="left:239.67px;top:1039.28px;font-size:20.46px;color:#5a555b;font-weight:700;-webkit-text-stroke:0.90px #5a555b;transform:scaleX(0.8267);">Oa</div>
<div class="t" style="left:281.15px;top:1039.28px;font-size:20.46px;color:#5a555b;font-weight:700;-webkit-text-stroke:0.90px #5a555b;transform:scaleX(0.8349);">aca</div>
<div class="t" style="left:243.00px;top:1060.04px;font-size:4.20px;color:#7d7a80;font-weight:700;transform:scaleX(0.8422);">JUNTOS CONSTRUIMOS EL CAMBIO</div>
<div class="t" style="left:322.50px;top:1060.69px;font-size:3.20px;color:#808285;transform:scaleX(0.7784);">Gobierno del Estado</div>
<div class="t" style="left:354.41px;top:1038.26px;font-size:12.80px;color:#d52b27;font-weight:700;-webkit-text-stroke:0.50px #d52b27;transform:scaleX(0.8390);">SALUD</div>
<div class="t" style="left:360.00px;top:1051.69px;font-size:3.20px;color:#808285;transform:scaleX(0.9854);">Secretaría de Salud</div>
<div class="t" style="left:354.20px;top:1055.69px;font-size:3.20px;color:#808285;transform:scaleX(0.9201);">Servicios de Salud de Oaxaca</div>
<div class="t" style="left:430.20px;top:1033.20px;font-size:14.30px;color:#3d3148;transform:scaleX(0.9851);">Ante síntomas como fiebre mayor a 38°, tos, dolor de cabeza acude al médico</div>
<div class="t" style="left:476.00px;top:1050.70px;font-size:14.30px;color:#3d3148;transform:scaleX(0.9969);">y llama a la <span style="color:#6a1b83;-webkit-text-stroke:.35px #6a1b83">Unidad de Inteligencia para Emergencias en Salud (UIES)</span></div>
<div class="t" style="left:956.62px;top:1033.88px;font-size:30.50px;color:#6a1b6e;font-weight:700;-webkit-text-stroke:0.60px #6a1b6e;transform:scaleX(1.0601);">800 770 84 37</div>
</body></html>
